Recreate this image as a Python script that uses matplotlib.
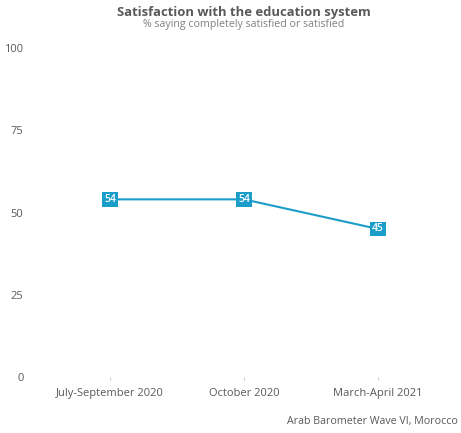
import matplotlib
matplotlib.use('Agg')
import matplotlib.pyplot as plt

# data
periods = ['July-September 2020', 'October 2020', 'March-April 2021']
satisfied = [54, 54, 45]
y_ticks = [0, 25, 50, 75, 100]

line_color = '#1a9dc9'
text_grey = '#595959'

plt.rcParams['font.family'] = ['Open Sans', 'DejaVu Sans']

fig = plt.figure(figsize=(4.61, 4.33), dpi=100)
ax = fig.add_axes([0.0933, 0.1293, 0.8720, 0.7598])

x = list(range(len(periods)))
ax.plot(x, satisfied, color=line_color, linewidth=1.5, clip_on=False)

# value labels in coloured boxes
for xi, v in zip(x, satisfied):
    ax.text(xi, v, str(v), ha='center', va='center', color='white', size=7.5,
            fontweight='semibold',
            bbox=dict(boxstyle='square,pad=0.18', facecolor=line_color, edgecolor='none'))

ax.set_xlim(-0.5, 2.5)
ax.set_ylim(0, 100)
ax.set_xticks(x)
ax.set_xticklabels(periods, size=8, color=text_grey)
ax.set_yticks(y_ticks)
ax.set_yticklabels([str(t) for t in y_ticks], size=8, color=text_grey)
ax.tick_params(axis='y', length=0, pad=14)
ax.tick_params(axis='x', length=2, color='#cccccc', pad=6)

for s in ax.spines.values():
    s.set_visible(False)

fig.text(0.529, 0.972, 'Satisfaction with the education system', ha='center', va='center',
         size=9.4, fontweight='bold', color=text_grey)
fig.text(0.529, 0.944, '% saying completely satisfied or satisfied', ha='center', va='center',
         size=7.7, color='#808080')
fig.text(0.993, 0.026, 'Arab Barometer Wave VI, Morocco', ha='right', va='center',
         size=7.7, color=text_grey)

fig.savefig('out.png', dpi=100)
